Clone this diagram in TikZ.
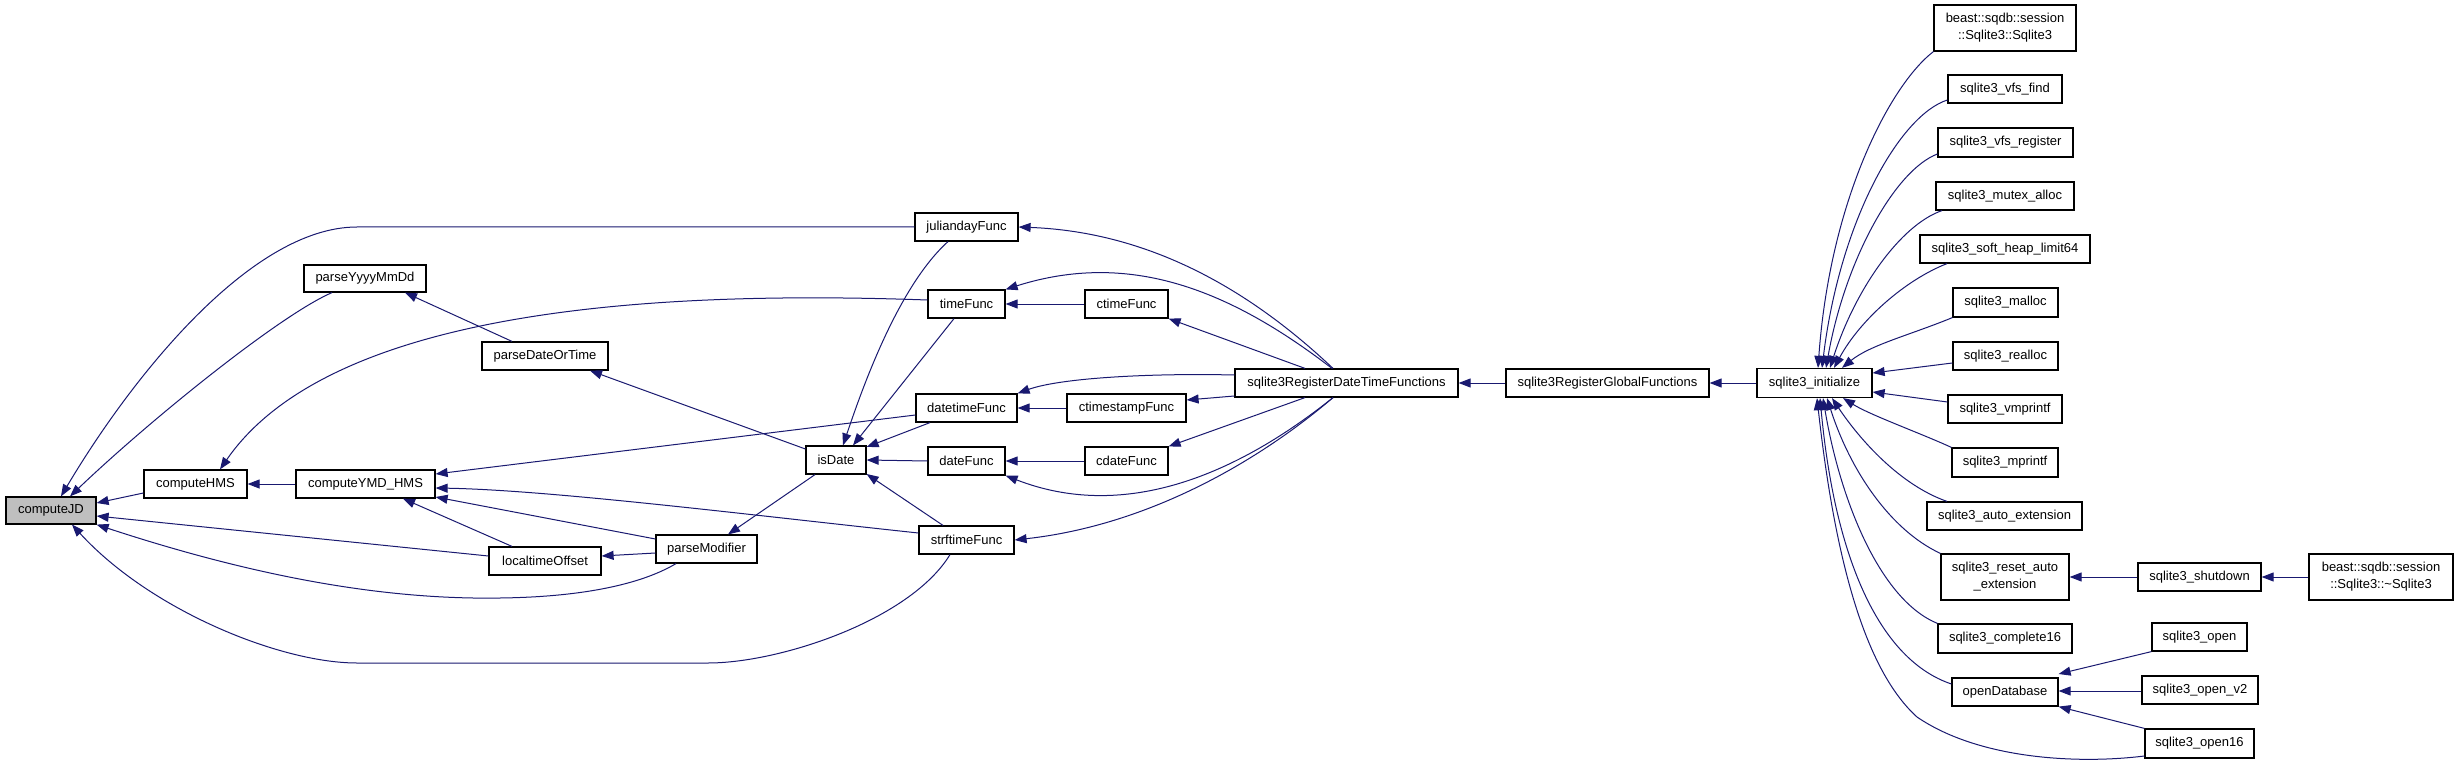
\documentclass[tikz,border=0pt]{standalone}
\usepackage{fontspec}
\setmainfont{Liberation Sans}
\usetikzlibrary{arrows.meta}
\definecolor{mblue}{RGB}{25,25,112}
\definecolor{grayfill}{RGB}{191,191,191}
\begin{document}
\begin{tikzpicture}[x=1pt,y=-1pt,
  box/.style={draw=black, line width=1.2pt, fill=white, inner sep=0pt, align=center,
    font=\fontsize{13}{17}\selectfont},
  arr/.style={draw=mblue, line width=1pt, {Triangle[length=12pt,width=9pt]}-}]
\useasboundingbox[fill=white] (0,0) rectangle (2459,767);
% left part
\node[box, fill=grayfill, minimum width=90pt, minimum height=27pt] (computeJD) at (51,510.5) {computeJD};
\node[box, minimum width=103pt, minimum height=28pt] (computeHMS) at (195.5,484) {computeHMS};
\node[box, minimum width=122pt, minimum height=27pt] (parseYyyyMmDd) at (365,278.5) {parseYyyyMmDd};
\node[box, minimum width=139pt, minimum height=28pt] (computeYMD) at (365.5,484) {computeYMD\_HMS};
\node[box, minimum width=126pt, minimum height=28pt] (parseDateOrTime) at (545,356) {parseDateOrTime};
\node[box, minimum width=112pt, minimum height=28pt] (localtimeOffset) at (545,561) {localtimeOffset};
\node[box, minimum width=101pt, minimum height=28pt] (parseModifier) at (706.5,549) {parseModifier};
\node[box, minimum width=60pt, minimum height=28pt] (isDate) at (836,460) {isDate};
\node[box, minimum width=103pt, minimum height=28pt] (juliandayFunc) at (966.5,227) {juliandayFunc};
\node[box, minimum width=77pt, minimum height=28pt] (timeFunc) at (966.5,304) {timeFunc};
\node[box, minimum width=101pt, minimum height=28pt] (datetimeFunc) at (966.5,408) {datetimeFunc};
\node[box, minimum width=77pt, minimum height=28pt] (dateFunc) at (966.5,461) {dateFunc};
\node[box, minimum width=95pt, minimum height=28pt] (strftimeFunc) at (966.5,540) {strftimeFunc};
\node[box, minimum width=83pt, minimum height=28pt] (ctimeFunc) at (1126.5,304) {ctimeFunc};
\node[box, minimum width=119pt, minimum height=28pt] (ctimestampFunc) at (1126.5,408) {ctimestampFunc};
\node[box, minimum width=83pt, minimum height=28pt] (cdateFunc) at (1126.5,461) {cdateFunc};
\node[box, minimum width=223pt, minimum height=28pt] (RDTF) at (1346.5,383) {sqlite3RegisterDateTimeFunctions};
\node[box, minimum width=203pt, minimum height=28pt] (RGF) at (1607.5,383) {sqlite3RegisterGlobalFunctions};
\node[box, minimum width=115pt, minimum height=29pt] (init) at (1814.5,383) {sqlite3\_initialize};
% right column
\node[box, minimum width=142pt, minimum height=46pt] (ctor) at (2005,28) {beast::sqdb::session\\::Sqlite3::Sqlite3};
\node[box, minimum width=114pt, minimum height=28pt] (vfsfind) at (2005,89) {sqlite3\_vfs\_find};
\node[box, minimum width=135pt, minimum height=29pt] (vfsreg) at (2005.5,142.5) {sqlite3\_vfs\_register};
\node[box, minimum width=138pt, minimum height=28pt] (mutex) at (2005,196) {sqlite3\_mutex\_alloc};
\node[box, minimum width=170pt, minimum height=28pt] (softheap) at (2005,249) {sqlite3\_soft\_heap\_limit64};
\node[box, minimum width=105pt, minimum height=29pt] (malloc) at (2005.5,302.5) {sqlite3\_malloc};
\node[box, minimum width=105pt, minimum height=28pt] (realloc) at (2005.5,356) {sqlite3\_realloc};
\node[box, minimum width=114pt, minimum height=28pt] (vmprintf) at (2005,409) {sqlite3\_vmprintf};
\node[box, minimum width=106pt, minimum height=29pt] (mprintf) at (2005,462.5) {sqlite3\_mprintf};
\node[box, minimum width=155pt, minimum height=28pt] (autoext) at (2004.5,516) {sqlite3\_auto\_extension};
\node[box, minimum width=128pt, minimum height=46pt] (resetext) at (2005,577) {sqlite3\_reset\_auto\\\_extension};
\node[box, minimum width=134pt, minimum height=29pt] (complete) at (2005,638.5) {sqlite3\_complete16};
\node[box, minimum width=106pt, minimum height=28pt] (openDatabase) at (2005,692) {openDatabase};
\node[box, minimum width=123pt, minimum height=28pt] (shutdown) at (2199.5,577) {sqlite3\_shutdown};
\node[box, minimum width=144pt, minimum height=46pt] (dtor) at (2381,577) {beast::sqdb::session\\::Sqlite3::\textasciitilde Sqlite3};
\node[box, minimum width=95pt, minimum height=28pt] (open) at (2199.5,637) {sqlite3\_open};
\node[box, minimum width=116pt, minimum height=28pt] (openv2) at (2200,690) {sqlite3\_open\_v2};
\node[box, minimum width=109pt, minimum height=29pt] (open16) at (2199.5,743.5) {sqlite3\_open16};
% edges into computeJD
\draw[arr] (computeJD.east |- 0,503) -- (computeHMS.west |- 0,493);
\draw[arr] (computeJD.north -| 70,0) .. controls (150,420) and (280,315) .. (parseYyyyMmDd.south -| 332,0);
\draw[arr] (computeJD.north -| 61,0) .. controls (130,380) and (250,227) .. (357,227) -- (juliandayFunc.west);
\draw[arr] (computeJD.east |- 0,516) -- (localtimeOffset.west |- 0,556);
\draw[arr] (computeJD.south east) .. controls (250,575) and (380,600) .. (500,598) .. controls (580,597) and (640,585) .. (parseModifier.south -| 676,0);
\draw[arr] (computeJD.south -| 72,0) .. controls (150,610) and (280,663) .. (357,663) -- (708,663) .. controls (780,663) and (910,620) .. (strftimeFunc.south -| 950,0);
% computeHMS, parseYyyyMmDd, computeYMD_HMS
\draw[arr] (computeHMS.east) -- (computeYMD.west);
\draw[arr] (computeHMS.north -| 220,0) .. controls (330,310) and (650,290) .. (timeFunc.west |- 0,300);
\draw[arr] (parseYyyyMmDd.south -| 405,0) -- (parseDateOrTime.north -| 512,0);
\draw[arr] (parseDateOrTime.south -| 590,0) -- (isDate.west |- 0,449);
\draw[arr] (computeYMD.east |- 0,474) -- (datetimeFunc.west |- 0,415);
\draw[arr] (computeYMD.east |- 0,488) .. controls (550,490) and (750,515) .. (strftimeFunc.west |- 0,533);
\draw[arr] (computeYMD.east |- 0,497) -- (parseModifier.west |- 0,539);
\draw[arr] (computeYMD.south -| 403,0) -- (localtimeOffset.north -| 512,0);
\draw[arr] (localtimeOffset.east |- 0,556) -- (parseModifier.west |- 0,553);
\draw[arr] (parseModifier.north -| 728,0) -- (isDate.south -| 815,0);
% isDate
\draw[arr] (isDate.north -| 843,0) .. controls (865,380) and (900,285) .. (juliandayFunc.south -| 948,0);
\draw[arr] (isDate.north -| 853,0) -- (timeFunc.south -| 954,0);
\draw[arr] (isDate.east |- 0,447) -- (datetimeFunc.south -| 930,0);
\draw[arr] (isDate.east) -- (dateFunc.west);
\draw[arr] (isDate.east |- 0,474) -- (strftimeFunc.north -| 943,0);
% Func column to RDTF
\draw[arr] (juliandayFunc.east) .. controls (1150,232) and (1250,290) .. (RDTF.north -| 1333,0);
\draw[arr] (timeFunc.north east) .. controls (1130,250) and (1230,290) .. (RDTF.north -| 1332,0);
\draw[arr] (timeFunc.east) -- (ctimeFunc.west);
\draw[arr] (ctimeFunc.south east) -- (RDTF.north -| 1305,0);
\draw[arr] (datetimeFunc.north east) .. controls (1060,378) and (1150,373) .. (RDTF.west |- 0,375);
\draw[arr] (datetimeFunc.east) -- (ctimestampFunc.west);
\draw[arr] (ctimestampFunc.east |- 0,400) -- (RDTF.west |- 0,396);
\draw[arr] (dateFunc.east) -- (cdateFunc.west);
\draw[arr] (cdateFunc.north east) -- (RDTF.south -| 1305,0);
\draw[arr] (dateFunc.south east) .. controls (1120,520) and (1230,480) .. (RDTF.south -| 1333,0);
\draw[arr] (strftimeFunc.east) .. controls (1150,525) and (1260,460) .. (RDTF.south -| 1333,0);
\draw[arr] (RDTF.east) -- (RGF.west);
\draw[arr] (RGF.east) -- (init.west);
% callers of sqlite3_initialize
\draw[arr] (init.north -| 1818,0) .. controls (1830,200) and (1890,85) .. (ctor.south west);
\draw[arr] (init.north -| 1822,0) .. controls (1840,220) and (1900,115) .. (vfsfind.west |- 0,100);
\draw[arr] (init.north -| 1826,0) .. controls (1845,260) and (1895,170) .. (vfsreg.west |- 0,154);
\draw[arr] (init.north -| 1830,0) .. controls (1855,290) and (1900,225) .. (mutex.south -| 1942,0);
\draw[arr] (init.north -| 1834,0) .. controls (1860,320) and (1905,280) .. (softheap.south -| 1947,0);
\draw[arr] (init.north -| 1842,0) .. controls (1870,345) and (1910,335) .. (malloc.south west);
\draw[arr] (init.east |- 0,373) -- (realloc.west |- 0,363);
\draw[arr] (init.east |- 0,392) -- (vmprintf.west |- 0,402);
\draw[arr] (init.south -| 1843,0) .. controls (1870,415) and (1920,433) .. (mprintf.north west);
\draw[arr] (init.south -| 1832,0) .. controls (1860,440) and (1900,485) .. (autoext.north -| 1947,0);
\draw[arr] (init.south -| 1827,0) .. controls (1850,470) and (1890,530) .. (resetext.north west);
\draw[arr] (init.south -| 1823,0) .. controls (1840,500) and (1880,600) .. (complete.north west);
\draw[arr] (init.south -| 1820,0) .. controls (1835,560) and (1880,660) .. (openDatabase.west |- 0,684);
\draw[arr] (init.south -| 1817,0) .. controls (1835,560) and (1865,670) .. (1917,717) .. controls (1980,760) and (2080,764) .. (open16.west |- 0,756);
% far right
\draw[arr] (resetext.east) -- (shutdown.west);
\draw[arr] (shutdown.east) -- (dtor.west);
\draw[arr] (openDatabase.east |- 0,674) -- (open.south west);
\draw[arr] (openDatabase.east |- 0,691) -- (openv2.west |- 0,691);
\draw[arr] (openDatabase.south east) -- (open16.north west);
\end{tikzpicture}
\end{document}
